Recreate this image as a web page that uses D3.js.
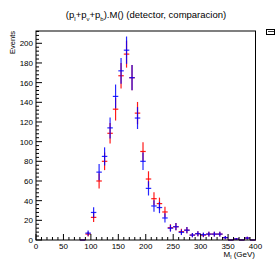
<!DOCTYPE html>
<html><head><meta charset="utf-8">
<script src="https://cdn.jsdelivr.net/npm/d3@7"></script>
<style>body{margin:0;background:#fff}svg{display:block}text{font-family:"Liberation Sans",Arial,sans-serif}</style>
</head><body>
<script>
const binCenters = [85,95,105,115,125,135,145,155,165,175,185,195,205,215,225,235,245,255,265,275,285,295,305,315,325,335,345,355,365,375,385,395];
const redValues  = [0,6,23,60,80,108.5,133,167,189,165,129,90,62,42,37,28.5,12.5,13.5,8.5,10,5,6.4,5,6,6,6,2.4,0,1,0,2,0];
const blueValues = [0,7,28,69,85,114,146,172,193,165,124,80,52.5,34.6,33,22.4,12,13.5,7.8,10,5,6.4,5.4,6,6,6,2.4,0,1,0,2,0];
const binWidth = 10;
const xTicks = [0,50,100,150,200,250,300,350,400];
const yTicks = [0,20,40,60,80,100,120,140,160,180,200];

const W=275,H=260;
const svg=d3.select("body").append("svg").attr("width",W).attr("height",H);
const x=d3.scaleLinear().domain([0,400]).range([36,255.5]);
const y=d3.scaleLinear().domain([0,212.5]).range([240,31]);

function drawSeries(vals,color,op){
  const g=svg.append("g").attr("stroke",color).attr("stroke-opacity",op).attr("stroke-width",1.2);
  binCenters.forEach((c,i)=>{
    const v=vals[i], e=Math.sqrt(v);
    g.append("line").attr("x1",x(c-binWidth/2)).attr("x2",x(c+binWidth/2)).attr("y1",y(v)).attr("y2",y(v));
    if(v>0) g.append("line").attr("x1",x(c)).attr("x2",x(c)).attr("y1",y(v+e)).attr("y2",y(Math.max(0,v-e)));
  });
}
drawSeries(redValues,"#ff0000",0.9);
drawSeries(blueValues,"#0000ff",0.85);

// frame
svg.append("rect").attr("x",36).attr("y",31).attr("width",219.5).attr("height",209).attr("fill","none").attr("stroke","#000").attr("stroke-width",1);

// ticks
const tg=svg.append("g").attr("stroke","#000").attr("stroke-width",1);
for(let v=0;v<=400;v+=10){
  const major = xTicks.includes(v);
  tg.append("line").attr("x1",x(v)).attr("x2",x(v)).attr("y1",240).attr("y2",240-(major?6:3));
}
for(let v=0;v<=212;v+=4){
  const major = yTicks.includes(v);
  tg.append("line").attr("x1",36).attr("x2",36+(major?6:3)).attr("y1",y(v)).attr("y2",y(v));
}
svg.append("g").selectAll("text").data(xTicks).join("text")
  .attr("x",d=>x(d)).attr("y",249).attr("text-anchor","middle").attr("font-size",8).text(d=>d);
svg.append("g").selectAll("text").data(yTicks).join("text")
  .attr("x",33).attr("y",d=>y(d)+3).attr("text-anchor","end").attr("font-size",8).text(d=>d);

// axis titles
const xt=svg.append("text").attr("x",255).attr("y",257).attr("text-anchor","end").attr("font-size",8);
xt.append("tspan").text("M");
xt.append("tspan").attr("font-size",5.5).attr("dy",2).text("l");
xt.append("tspan").attr("dy",-2).text(" (GeV)");
svg.append("text").attr("transform","translate(15,31) rotate(-90)").attr("text-anchor","end").attr("font-size",7.5).text("Events");

// title
const t=svg.append("text").attr("x",146).attr("y",18).attr("text-anchor","middle").attr("font-size",9.5);
t.append("tspan").text("(p");
t.append("tspan").attr("font-size",6).attr("dy",2.5).text("l");
t.append("tspan").attr("dy",-2.5).text("+p");
t.append("tspan").attr("font-size",6).attr("dy",2.5).text("ν");
t.append("tspan").attr("dy",-2.5).text("+p");
t.append("tspan").attr("font-size",6).attr("dy",2.5).text("b");
t.append("tspan").attr("dy",-2.5).text(").M()  (detector, comparacion)");

// small stats box stub
svg.append("rect").attr("x",266.5).attr("y",29.5).attr("width",8).attr("height",5).attr("fill","#fff").attr("stroke","#000").attr("stroke-width",1);
svg.append("line").attr("x1",268).attr("x2",275).attr("y1",31.5).attr("y2",31.5).attr("stroke","#000").attr("stroke-width",0.8);
</script>
</body></html>
